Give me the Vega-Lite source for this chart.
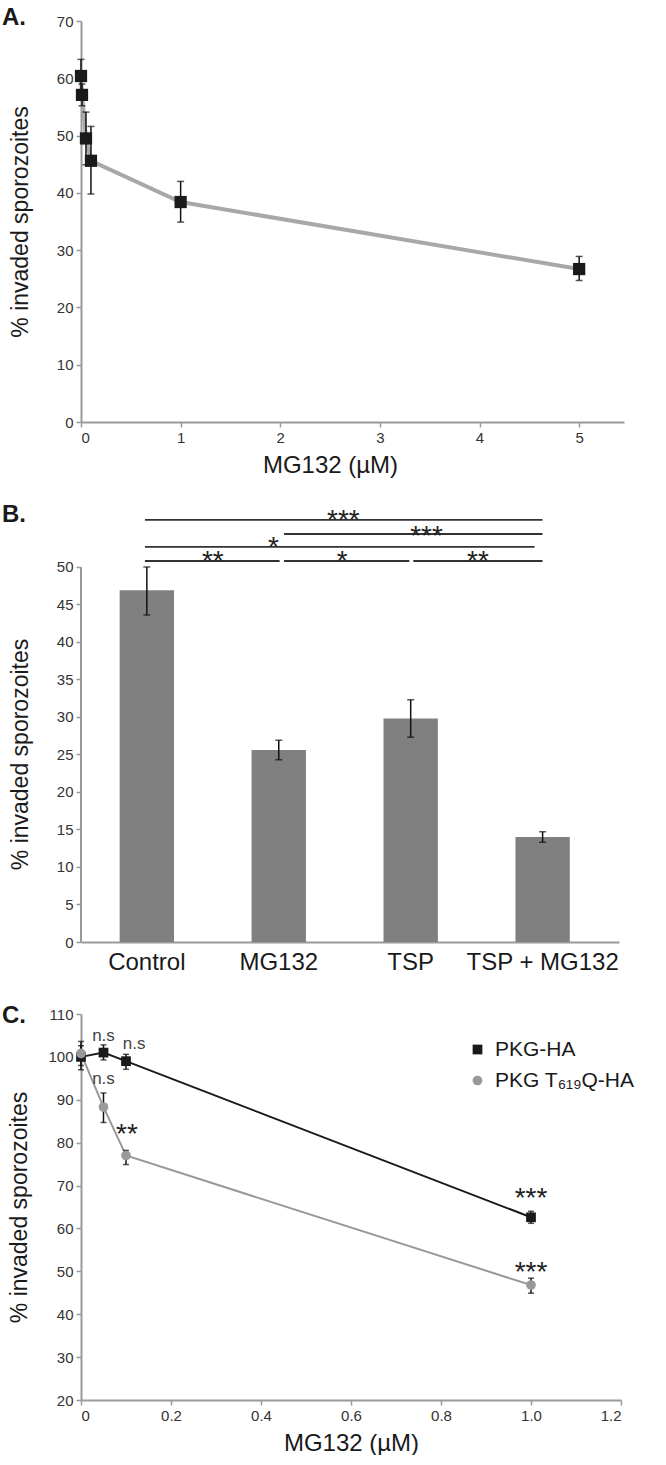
{
  "$schema": "https://vega.github.io/schema/vega-lite/v6.json",
  "background": "white",
  "padding": {"left": 2, "top": 5, "right": 0, "bottom": 0},
  "bounds": "flush",
  "spacing": 72,
  "resolve": {"legend": {"color": "independent", "shape": "independent"}},
  "config": {
    "font": "Liberation Sans",
    "view": {"stroke": null},
    "axis": {"domainColor": "#9a9a9a", "domainWidth": 2, "tickColor": "#9a9a9a", "tickWidth": 1.5, "tickSize": 5, "labelFontSize": 15, "labelColor": "#333333", "titleFontSize": 23, "titleFontWeight": "normal", "titleColor": "#1a1a1a", "grid": false, "labelPadding": 3},
    "title": {"fontSize": 24, "fontWeight": "bold", "anchor": "start", "frame": "group", "baseline": "alphabetic", "offset": 0, "color": "#1a1a1a"}
  },
  "vconcat": [
    {
      "width": 543,
      "height": 401,
      "title": {"text": "A.", "dx": -79, "dy": 19.5},
      "data": {"values": [
        {"conc": 0, "pct": 60.4, "lo": 57.5, "hi": 63.3},
        {"conc": 0.01, "pct": 57.1, "lo": 55.2, "hi": 59.0},
        {"conc": 0.05, "pct": 49.5, "lo": 44.9, "hi": 54.1},
        {"conc": 0.1, "pct": 45.6, "lo": 39.8, "hi": 51.6},
        {"conc": 1, "pct": 38.4, "lo": 34.9, "hi": 42.0},
        {"conc": 5, "pct": 26.7, "lo": 24.7, "hi": 28.9}
      ]},
      "layer": [
        {
          "mark": {"type": "line", "color": "#a8a8a8", "strokeWidth": 4},
          "encoding": {
            "x": {"field": "conc", "type": "quantitative", "title": "MG132 (µM)", "scale": {"domain": [0, 5.45], "nice": false, "zero": false},
                  "axis": {"values": [0, 1, 2, 3, 4, 5], "format": "d", "titleFontSize": 24, "titlePadding": 8, "titleX": 249}},
            "y": {"field": "pct", "type": "quantitative", "title": "% invaded sporozoites", "scale": {"domain": [0, 70], "nice": false},
                  "axis": {"values": [0, 10, 20, 30, 40, 50, 60, 70], "titlePadding": 24}}
          }
        },
        {
          "mark": {"type": "errorbar", "ticks": true, "size": 7, "thickness": 1.5, "color": "#111111"},
          "encoding": {
            "x": {"field": "conc", "type": "quantitative", "title": "MG132 (µM)"},
            "y": {"field": "hi", "type": "quantitative", "title": "% invaded sporozoites"},
            "y2": {"field": "lo"}
          }
        },
        {
          "mark": {"type": "point", "shape": "square", "filled": true, "color": "#1a1a1a", "size": 150, "opacity": 1},
          "encoding": {
            "x": {"field": "conc", "type": "quantitative", "title": "MG132 (µM)"},
            "y": {"field": "pct", "type": "quantitative", "title": "% invaded sporozoites"}
          }
        }
      ]
    },
    {
      "width": 538,
      "height": 448,
      "title": {"text": "B.", "dx": -79, "dy": 37},
      "resolve": {"scale": {"x": "independent"}},
      "layer": [
        {
          "data": {"values": [
            {"cond": "Control", "pct": 46.9, "lo": 43.6, "hi": 50.0},
            {"cond": "MG132", "pct": 25.6, "lo": 24.3, "hi": 26.9},
            {"cond": "TSP", "pct": 29.8, "lo": 27.3, "hi": 32.3},
            {"cond": "TSP + MG132", "pct": 14.0, "lo": 13.3, "hi": 14.7}
          ]},
          "layer": [
            {
              "mark": {"type": "bar", "color": "#808080"},
              "encoding": {
                "x": {"field": "cond", "type": "nominal", "sort": null, "title": null,
                      "scale": {"type": "band", "paddingInner": 0.588, "paddingOuter": 0.333, "align": 0.44},
                      "axis": {"labelAngle": 0, "labelFontSize": 24, "labelColor": "#1a1a1a", "ticks": false, "labelPadding": 8}},
                "y": {"field": "pct", "type": "quantitative", "title": "% invaded sporozoites", "scale": {"domain": [0, 59.73], "nice": false},
                      "axis": {"values": [0, 5, 10, 15, 20, 25, 30, 35, 40, 45, 50], "domain": false, "titlePadding": 24, "titleY": 260}}
              }
            },
            {
              "mark": {"type": "errorbar", "ticks": true, "size": 7, "thickness": 1.5, "color": "#111111"},
              "encoding": {
                "x": {"field": "cond", "type": "nominal", "sort": null, "title": null},
                "y": {"field": "hi", "type": "quantitative", "title": "% invaded sporozoites"},
                "y2": {"field": "lo"}
              }
            }
          ]
        },
        {
          "data": {"values": [{"a": -0.5, "lo": 0, "hi": 50}]},
          "mark": {"type": "rule", "color": "#9a9a9a", "strokeWidth": 2},
          "encoding": {
            "x": {"field": "a", "type": "quantitative", "scale": {"domain": [-0.5, 3.58], "nice": false, "zero": false}, "axis": null},
            "y": {"field": "lo", "type": "quantitative", "title": "% invaded sporozoites"},
            "y2": {"field": "hi"}
          }
        },
        {
          "data": {"values": [
            {"a": -0.015, "b": 3.0, "y": 56.27},
            {"a": 1.04, "b": 3.0, "y": 54.4},
            {"a": -0.015, "b": 2.94, "y": 52.67},
            {"a": -0.015, "b": 1.006, "y": 50.8},
            {"a": 1.04, "b": 1.99, "y": 50.8},
            {"a": 2.02, "b": 3.0, "y": 50.8}
          ]},
          "mark": {"type": "rule", "color": "#333333", "strokeWidth": 1.8},
          "encoding": {
            "x": {"field": "a", "type": "quantitative", "scale": {"domain": [-0.5, 3.58], "nice": false, "zero": false}, "axis": null},
            "x2": {"field": "b"},
            "y": {"field": "y", "type": "quantitative", "title": "% invaded sporozoites"}
          }
        },
        {
          "data": {"values": [
            {"x": 1.49, "y": 55.07, "t": "***"},
            {"x": 2.12, "y": 52.94, "t": "***"},
            {"x": 0.96, "y": 51.47, "t": "*"},
            {"x": 0.5, "y": 49.6, "t": "**"},
            {"x": 1.48, "y": 49.6, "t": "*"},
            {"x": 2.51, "y": 49.6, "t": "**"}
          ]},
          "mark": {"type": "text", "fontSize": 28, "align": "center", "baseline": "alphabetic", "color": "#222222"},
          "encoding": {
            "x": {"field": "x", "type": "quantitative", "scale": {"domain": [-0.5, 3.58], "nice": false, "zero": false}, "axis": null},
            "y": {"field": "y", "type": "quantitative", "title": "% invaded sporozoites"},
            "text": {"field": "t"}
          }
        }
      ]
    },
    {
      "width": 540,
      "height": 386,
      "title": {"text": "C.", "dx": -79, "dy": 25},
      "layer": [
        {
          "data": {"values": [
            {"series": "PKG-HA", "conc": 0, "pct": 100.0, "lo": 98.0, "hi": 102.6},
            {"series": "PKG-HA", "conc": 0.05, "pct": 101.0, "lo": 99.3, "hi": 102.8},
            {"series": "PKG-HA", "conc": 0.1, "pct": 99.0, "lo": 97.1, "hi": 100.6},
            {"series": "PKG-HA", "conc": 1.0, "pct": 62.6, "lo": 61.2, "hi": 64.0},
            {"series": "PKG T₆₁₉Q-HA", "conc": 0, "pct": 100.8, "lo": 97.0, "hi": 103.6},
            {"series": "PKG T₆₁₉Q-HA", "conc": 0.05, "pct": 88.3, "lo": 84.7, "hi": 91.6},
            {"series": "PKG T₆₁₉Q-HA", "conc": 0.1, "pct": 77.0, "lo": 74.9, "hi": 78.2},
            {"series": "PKG T₆₁₉Q-HA", "conc": 1.0, "pct": 46.8, "lo": 44.9, "hi": 48.4}
          ]},
          "layer": [
            {
              "transform": [{"filter": "datum.series == 'PKG-HA'"}],
              "mark": {"type": "line", "strokeWidth": 2, "color": "#1a1a1a"},
              "encoding": {
                "x": {"field": "conc", "type": "quantitative", "title": "MG132 (µM)", "scale": {"domain": [0, 1.2], "nice": false, "zero": false},
                      "axis": {"values": [0, 0.2, 0.4, 0.6, 0.8, 1.0, 1.2], "labelExpr": "datum.value == 0 ? '0' : format(datum.value, '.1f')", "titleFontSize": 24, "titlePadding": 8}},
                "y": {"field": "pct", "type": "quantitative", "title": "% invaded sporozoites", "scale": {"domain": [20, 110], "nice": false, "zero": false},
                      "axis": {"values": [20, 30, 40, 50, 60, 70, 80, 90, 100, 110], "titlePadding": 16}}
              }
            },
            {
              "transform": [{"filter": "datum.series != 'PKG-HA'"}],
              "mark": {"type": "line", "strokeWidth": 2, "color": "#999999"},
              "encoding": {
                "x": {"field": "conc", "type": "quantitative", "title": "MG132 (µM)"},
                "y": {"field": "pct", "type": "quantitative", "title": "% invaded sporozoites"}
              }
            },
            {
              "mark": {"type": "errorbar", "ticks": true, "size": 6, "thickness": 1.5, "color": "#111111"},
              "encoding": {
                "x": {"field": "conc", "type": "quantitative", "title": "MG132 (µM)"},
                "y": {"field": "hi", "type": "quantitative", "title": "% invaded sporozoites"},
                "y2": {"field": "lo"},
                "detail": {"field": "series"}
              }
            },
            {
              "mark": {"type": "point", "filled": true, "size": 95, "opacity": 1},
              "encoding": {
                "x": {"field": "conc", "type": "quantitative", "title": "MG132 (µM)"},
                "y": {"field": "pct", "type": "quantitative", "title": "% invaded sporozoites"},
                "color": {"field": "series", "type": "nominal", "sort": null, "title": null, "scale": {"domain": ["PKG-HA", "PKG T₆₁₉Q-HA"], "range": ["#1a1a1a", "#999999"]},
                          "legend": {"orient": "none", "legendX": 386, "legendY": 25, "padding": 0, "labelFontSize": 21, "labelColor": "#1a1a1a", "symbolSize": 95, "rowPadding": 9, "labelOffset": 7, "symbolStrokeWidth": 0}},
                "shape": {"field": "series", "type": "nominal", "sort": null, "title": null, "scale": {"domain": ["PKG-HA", "PKG T₆₁₉Q-HA"], "range": ["square", "circle"]}}
              }
            }
          ]
        },
        {
          "data": {"values": [
            {"x": 0.05, "y": 103.7, "t": "n.s"},
            {"x": 0.118, "y": 101.8, "t": "n.s"},
            {"x": 0.05, "y": 93.6, "t": "n.s"}
          ]},
          "mark": {"type": "text", "fontSize": 17, "align": "center", "baseline": "alphabetic", "color": "#444444"},
          "encoding": {
            "x": {"field": "x", "type": "quantitative"},
            "y": {"field": "y", "type": "quantitative"},
            "text": {"field": "t"}
          }
        },
        {
          "data": {"values": [
            {"x": 0.102, "y": 80.0, "t": "**"},
            {"x": 1.0, "y": 65.0, "t": "***"},
            {"x": 1.0, "y": 47.8, "t": "***"}
          ]},
          "mark": {"type": "text", "fontSize": 28, "align": "center", "baseline": "alphabetic", "color": "#222222"},
          "encoding": {
            "x": {"field": "x", "type": "quantitative"},
            "y": {"field": "y", "type": "quantitative"},
            "text": {"field": "t"}
          }
        }
      ]
    }
  ]
}
